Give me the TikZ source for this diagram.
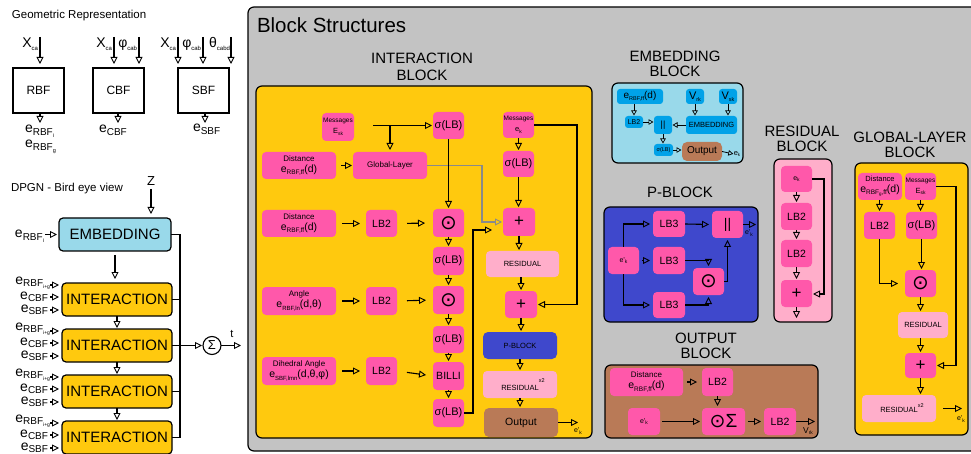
\documentclass[tikz,border=0pt]{standalone}
\usepackage{fontspec}
\setmainfont{Liberation Sans}
\newfontfamily\dvs{DejaVu Sans}
\usetikzlibrary{arrows.meta}
\definecolor{pk}{HTML}{FF58AA}
\definecolor{lpk}{HTML}{FFAECA}
\definecolor{org}{HTML}{FFC90E}
\definecolor{gry}{HTML}{C3C3C3}
\definecolor{brn}{HTML}{B97A57}
\definecolor{blu}{HTML}{3F48CC}
\definecolor{lbl}{HTML}{99D9EA}
\definecolor{mbl}{HTML}{00A2E8}
\definecolor{garr}{HTML}{8A8A8A}
\newcommand\fs[1]{\fontsize{#1}{#1}\selectfont}
\newcommand\lo[2][6]{\raisebox{-0.2em}{\fs{#1}#2}}
\newcommand\BX[7]{\node[#2, minimum width={(#5)-(#3)}, minimum height={(#6)-(#4)}] (#1) at ({((#3)+(#5))/2},{((#4)+(#6))/2}) {#7};}
\newcommand\OD{{\dvs\fs{20}⊙}}
\newcommand\DST[2][8]{{\fs{#1}Distance}\\{\fs{10.5}e\lo[6.5]{#2}(d)}}
\newcommand\MSG[1]{{\fs{6.5}Messages}\\{\fs{7.5}#1}}
\begin{document}
\begin{tikzpicture}[x=1pt,y=-1pt,
  every node/.style={inner sep=0pt,outer sep=0pt,align=center},
  ln/.style={line width=1.1pt},
  ar/.style={ln,-{Triangle[open,length=7pt,width=7pt,line width=0.9pt]},shorten >=1pt},
  sar/.style={line width=0.8pt,-{Triangle[open,length=5pt,width=5.5pt,line width=0.7pt]},shorten >=0.5pt},
  gar/.style={line width=1.1pt,draw=garr,-{Triangle[open,length=7pt,width=7pt,line width=0.9pt]},shorten >=1pt},
  cont/.style={draw,line width=1.2pt,rounded corners=6pt},
  wb/.style={draw,line width=1.2pt,font=\fs{12}},
  lbx/.style={draw,line width=1.2pt,rounded corners=4pt,fill=lbl,font=\fs{15}},
  ibx/.style={draw,line width=1.2pt,rounded corners=4pt,fill=org,font=\fs{15}},
  pkb/.style={fill=pk,rounded corners=4pt,font=\fs{11}},
  lpb/.style={fill=lpk,rounded corners=4pt,font=\fs{7.5}},
  bb/.style={fill=mbl,rounded corners=3pt},
  brb/.style={fill=brn,rounded corners=5pt,font=\fs{10.5}},
  ttl/.style={font=\fontsize{15}{15}\selectfont},
]
\useasboundingbox (0,0) rectangle (971,454);
% ---------------- left: geometric representation
\node[anchor=base west,font=\fs{11.5}] (gtitle) at (12,19) {Geometric Representation};
\BX{rbf}{wb}{13}{68}{64}{113}{RBF}
\BX{cbf}{wb}{93}{68}{144}{113}{CBF}
\BX{sbf}{wb}{178}{68}{229}{113}{SBF}
\coordinate (xr) at (40,37);
\coordinate (xc1) at (114,37); \coordinate (xc2) at (139,37);
\coordinate (xs1) at (178,37); \coordinate (xs2) at (203,37); \coordinate (xs3) at (231,37);
\foreach \c in {xr,xc1,xc2,xs1,xs2,xs3}{\draw[ar,shorten >=4pt] (\c) -- (\c |- rbf.north);}
\node[anchor=base east,font=\fs{14}] at (38,48) {X\lo[6]{ca}};
\node[anchor=base east,font=\fs{14}] at (112,48) {X\lo[6]{ca}};
\node[anchor=base east,font=\fs{14}] at (137,48) {φ\lo[6]{cab}};
\node[anchor=base east,font=\fs{14}] at (176,48) {X\lo[6]{ca}};
\node[anchor=base east,font=\fs{14}] at (201,48) {φ\lo[6]{cab}};
\node[anchor=base east,font=\fs{14}] at (230,48) {θ\lo[6]{cabd}};
\coordinate (ro) at (40,124); \coordinate (co) at (118,124); \coordinate (so) at (205,124);
\draw[ar] (rbf.south -| ro) -- (ro);
\draw[ar] (cbf.south -| co) -- (co);
\draw[ar] (sbf.south -| so) -- (so);
\node[anchor=base west,font=\fs{14}] at (25,133) {e\lo[10]{RBF\lo[5.5]{i}}};
\node[anchor=base west,font=\fs{14}] at (25,148) {e\lo[10]{RBF\lo[5.5]{g}}};
\node[anchor=base west,font=\fs{14}] at (99,133) {e\lo[10]{CBF}};
\node[anchor=base west,font=\fs{14}] at (193,132) {e\lo[10]{SBF}};
% ---------------- left: bird eye view
\node[anchor=base west,font=\fs{11.5}] (dtitle) at (11,192) {DPGN - Bird eye view};
\node[anchor=base,font=\fs{13}] (zl) at (151,186) {Z};
\BX{emb}{lbx}{59}{218}{171}{251}{EMBEDDING}
\draw[ar,shorten <=3pt,shorten >=4pt] (zl.south) -- (zl.south |- emb.north);
\coordinate (ein) at (45,234.5);
\node[anchor=base east,font=\fs{14}] at (44,238) {e\lo[10]{RBF\lo[5.5]{i}}};
\draw[ar,shorten >=2pt] (ein) -- (emb.west);
\BX{i1}{ibx}{62}{283}{172}{316}{INTERACTION}
\BX{i2}{ibx}{62}{329}{172}{362}{INTERACTION}
\BX{i3}{ibx}{62}{375}{172}{408}{INTERACTION}
\BX{i4}{ibx}{62}{421}{172}{454}{INTERACTION}
\draw[ar,shorten <=4pt,shorten >=4pt] (emb.south) -- (emb.south |- i1.north);
\draw[ar] (i1.south) -- (i2.north);
\draw[ar] (i2.south) -- (i3.north);
\draw[ar] (i3.south) -- (i4.north);
\foreach \n/\t in {1/283,2/329,3/375,4/421}{
  \coordinate (i\n-a) at (50,\t+2);
  \coordinate (i\n-b) at (50,\t+14);
  \coordinate (i\n-c) at (50,\t+27);
  \node[anchor=base east,font=\fs{14}] at (50,\t+1) {e\lo[10]{RBF\lo[5]{i+g}}};
  \node[anchor=base east,font=\fs{14}] at (48,\t+16) {e\lo[10]{CBF}};
  \node[anchor=base east,font=\fs{14}] at (48,\t+29) {e\lo[10]{SBF}};
  \draw[ar,shorten >=3pt] (i\n-a) -- (i\n-a -| i\n.west);
  \draw[ar,shorten >=3pt] (i\n-b) -- (i\n-b -| i\n.west);
  \draw[ar,shorten >=3pt] (i\n-c) -- (i\n-c -| i\n.west);
}
\coordinate (busb) at (180,437.5);
\draw[ln] (emb.east) -| (busb) -- (i4.east);
\draw[ln] (i1.east) -- (i1.east -| busb);
\draw[ln] (i3.east) -- (i3.east -| busb);
\node[draw,circle,line width=1.1pt,minimum size=18pt,font=\fs{13}] (sum) at (212,345.5) {Σ};
\draw[ar] (i2.east) -- (sum.west);
\coordinate (tout) at (242,345.5);
\draw[ar] (sum.east) -- (tout);
\node[anchor=base,font=\fs{11}] at (232,337) {t};
% ---------------- block structures panel
\draw[cont,fill=gry] (248,7) rectangle (995,451);
\node[anchor=base west,font=\fs{20.5}] (bst) at (257,33) {Block Structures};
% interaction block
\BX{iblk}{cont,fill=org}{256}{86}{592}{438}{}
\node[ttl,font=\fontsize{15}{17}\selectfont] at (422,67) {INTERACTION\\BLOCK};
\BX{msgE}{pkb}{322}{113}{354}{141}{\MSG{E\lo[5]{sk}}}
\BX{dist1}{pkb}{262}{152}{336}{179}{\DST{RBF,ff}}
\BX{glob}{pkb,font=\fs{8}}{353}{152}{427}{179}{Global-Layer}
\BX{dist2}{pkb}{262}{210}{336}{237}{\DST{RBF,ff}}
\BX{lba}{pkb,font=\fs{10.5}}{366}{210}{397}{237}{LB2}
\BX{ang}{pkb}{262}{287}{336}{315}{{\fs{8}Angle}\\{\fs{10.5}e\lo[6]{RBF,ln}(d,θ)}}
\BX{lbb}{pkb,font=\fs{10.5}}{366}{287}{397}{315}{LB2}
\BX{dih}{pkb}{262}{357}{336}{385}{{\fs{8}Dihedral Angle}\\{\fs{10.5}e\lo[6]{SBF,lmn}(d,θ,φ)}}
\BX{lbc}{pkb,font=\fs{10.5}}{366}{357}{397}{385}{LB2}
\BX{s1}{pkb}{433}{112}{464}{139}{σ(LB)}
\BX{od1}{pkb}{433}{209}{464}{237}{\OD}
\BX{s2}{pkb}{433}{247}{464}{275}{σ(LB)}
\BX{od2}{pkb}{433}{286}{464}{314}{\OD}
\BX{s3}{pkb}{433}{326}{464}{353}{σ(LB)}
\BX{bil}{pkb,font=\fs{10.5}}{433}{362}{464}{390}{BILLI}
\BX{s4}{pkb}{433}{399}{464}{427}{σ(LB)}
\BX{msgk}{pkb}{503}{112}{534}{138}{\MSG{e\lo[5]{k}}}
\BX{s5}{pkb}{503}{151}{534}{177}{σ(LB)}
\BX{pl1}{pkb,font=\fs{17}}{503}{208}{535}{236}{+}
\BX{res1}{lpb}{486}{251}{559}{277}{RESIDUAL}
\BX{pl2}{pkb,font=\fs{17}}{505}{291}{537}{318}{+}
\BX{pbk}{fill=blu,rounded corners=5pt,font=\fs{7.5}}{483}{332}{557}{359}{P-BLOCK}
\BX{res2}{lpb}{483}{371}{557}{398}{RESIDUAL\rlap{\raisebox{8pt}{\fs{5.5}x2}}}
\BX{outp}{brb}{484}{408}{558}{437}{Output}
\coordinate (mt1) at (373,125.5);
\coordinate (mt2) at (390,125.5);
\draw[ar] (mt1) -- (s1.west);
\draw[ar,shorten >=2pt] (mt2) -- (mt2 |- glob.north);
\draw[ar,shorten <=5pt] (dist1.east) -- (glob.west);
\coordinate (gb) at (482,165.5);
\draw[gar] (glob.east) -- (gb) |- (pl1.west);
\draw[ar] (s1.south) -- (od1.north);
\draw[ar,shorten <=6pt,shorten >=6pt] (dist2.east) -- (lba.west);
\draw[ar,shorten <=6pt,shorten >=6pt] (ang.east) -- (lbb.west);
\draw[ar,shorten <=6pt,shorten >=6pt] (dih.east) -- (lbc.west);
\draw[ar,shorten <=10pt,shorten >=8pt] (lba.east) -- (od1.west);
\draw[ar,shorten <=10pt,shorten >=7pt] (lbb.east) -- (od2.west);
\draw[ar,shorten <=10pt,shorten >=7pt] (lbc.east) -- (bil.west);
\draw[ar] (od1.south) -- (s2.north);
\draw[ar] (s2.south) -- (od2.north);
\draw[ar] (od2.south) -- (s3.north);
\draw[ar] (s3.south) -- (bil.north);
\draw[ar] (bil.south) -- (s4.north);
\coordinate (k1) at (473,230);
\draw[ar,shorten >=11pt] (s4.east) -| (k1) -- (k1 -| pl1.west);
\draw[ar] (msgk.south) -- (msgk.south |- s5.north);
\draw[ar] (s5.south) -- (s5.south |- pl1.north);
\draw[ar] (pl1.south) -- (pl1.south |- res1.north);
\draw[ar] (pl2.north |- res1.south) -- (pl2.north);
\draw[ar] (pl2.south) -- (pl2.south |- pbk.north);
\draw[ar] (pbk.south) -- (pbk.south |- res2.north);
\draw[ar] (res2.south) -- (res2.south |- outp.north);
\coordinate (k2) at (577,304.5);
\draw[ar] (msgk.east) -| (k2) -- (pl2.east);
\coordinate (eo) at (579,422.5);
\draw[ar] (outp.east) -- (eo);
\node[font=\fs{7}] at (578,431) {e'\lo[5]{k}};
% embedding block
\node[ttl] at (675,64) {EMBEDDING\\BLOCK};
\BX{embblk}{cont,fill=lbl}{612}{83}{743}{163}{}
\BX{ebe}{bb,font=\fs{10}}{617}{89}{663}{104}{e\lo[5.5]{RBF,ff}(d)}
\BX{ebvr}{bb,font=\fs{11}}{686}{89}{704}{104}{V\lo[5.5]{rk}}
\BX{ebvs}{bb,font=\fs{11}}{719}{89}{737}{104}{V\lo[5.5]{sk}}
\BX{eblb}{bb,font=\fs{7}}{625}{116}{643}{128}{LB2}
\BX{ebc}{bb,font=\fs{9}}{654}{116}{672}{134}{||}
\BX{ebem}{bb,font=\fs{7.5}}{686}{116}{737}{134}{EMBEDDING}
\BX{ebs}{bb,font=\fs{5.5}}{654}{144}{673}{156}{σ(LB)}
\BX{ebo}{brb,font=\fs{10}}{682}{142}{722}{161}{Output}
\node[font=\fs{7.5}] (ebk) at (737,154) {e\lo[4.5]{k}};
\draw[sar] (ebe.south -| eblb.north) -- (eblb.north);
\draw[sar] (ebvr.south) -- (ebvr.south |- ebem.north);
\draw[sar] (ebvs.south) -- (ebvs.south |- ebem.north);
\draw[sar] (eblb.east) -- (eblb.east -| ebc.west);
\draw[sar] (ebem.west) -- (ebc.east);
\draw[sar] (ebc.south) -- (ebc.south |- ebs.north);
\draw[sar] (ebs.east) -- (ebs.east -| ebo.west);
\draw[sar] (ebo.east) -- (ebk.west);
% p-block
\node[ttl] at (680,192) {P-BLOCK};
\BX{pblk}{cont,fill=blu}{604}{207}{758}{322}{}
\BX{pe}{pkb}{608}{247}{639}{274}{\fs{7}e'\lo[5]{k}}
\BX{pla}{pkb,font=\fs{10.5}}{653}{211}{685}{237}{LB3}
\BX{plb}{pkb,font=\fs{10.5}}{653}{247}{685}{274}{LB3}
\BX{plc}{pkb,font=\fs{10.5}}{653}{292}{685}{318}{LB3}
\BX{pcat}{pkb,font=\fs{14}}{712}{211}{743}{238}{||}
\BX{pod}{pkb}{693}{268}{724}{295}{\OD}
\draw[ar,shorten <=3pt,shorten >=3pt] (pe.east) -- (plb.west);
\draw[ar,shorten >=3pt] (pe.north) |- (pla.west);
\draw[ar,shorten >=3pt] (pe.south) |- (plc.west);
\draw[ar,shorten >=3pt] (pla.east) -- (pcat.west);
\draw[ar,shorten >=2pt] (plb.east) -| (pod.north);
\draw[ar,shorten >=2pt] (plc.east) -| (pod.south);
\draw[ar,shorten >=2pt] (pod.east) -| (pcat.south);
\coordinate (pout) at (757,224.5);
\draw[ar] (pcat.east) -- (pout);
\node[font=\fs{7}] at (749,233) {e'\lo[5]{k}};
% output block
\node[ttl] at (706,346) {OUTPUT\\BLOCK};
\BX{oblk}{cont,fill=brn}{605}{365}{818}{438}{}
\BX{od}{pkb}{610}{368}{683}{396}{\DST{RBF,ff}}
\BX{ol1}{pkb,font=\fs{10.5}}{702}{368}{733}{396}{LB2}
\BX{oe}{pkb}{628}{408}{660}{435}{\fs{7}e'\lo[5]{k}}
\BX{osum}{pkb,font=\fs{19}}{702}{408}{745}{435}{{\dvs\fs{19}⊙}Σ}
\BX{ol2}{pkb,font=\fs{10.5}}{764}{408}{796}{435}{LB2}
\draw[ar,shorten <=4pt,shorten >=5pt] (od.east) -- (ol1.west);
\draw[ar,shorten >=2pt] (ol1.south) -- (ol1.south |- osum.north);
\draw[ar,shorten <=2pt,shorten >=2pt] (oe.east) -- (osum.west);
\draw[ar,shorten <=3pt,shorten >=3pt] (osum.east) -- (ol2.west);
\coordinate (vout) at (816,421.5);
\draw[ar] (ol2.east) -- (vout);
\node[font=\fs{8.5}] at (808,431) {V\lo[5]{rk}};
% residual block
\node[ttl] at (802,139) {RESIDUAL\\BLOCK};
\BX{rblk}{cont,fill=lpk}{774}{159}{832}{322}{}
\BX{re}{pkb}{781}{166}{812}{192}{\fs{7}e\lo[5]{k}}
\BX{rl1}{pkb,font=\fs{10.5}}{781}{203}{812}{230}{LB2}
\BX{rl2}{pkb,font=\fs{10.5}}{781}{240}{812}{267}{LB2}
\BX{rp}{pkb,font=\fs{17}}{781}{280}{812}{307}{+}
\draw[ar] (re.south) -- (rl1.north);
\draw[ar] (rl1.south) -- (rl2.north);
\draw[ar] (rl2.south) -- (rp.north);
\coordinate (rout) at (796.5,319);
\draw[ar] (rp.south) -- (rout);
\coordinate (rk) at (824,294);
\draw[ar] (re.east) -| (rk) -- (rk -| rp.east);
% global-layer block
\node[ttl] at (910,145) {GLOBAL-LAYER\\BLOCK};
\BX{gblk}{cont,fill=org}{855}{163}{968}{435}{}
\BX{gd}{pkb}{858}{173}{902}{200}{\DST[7.5]{RBF\lo[4.5]{g},ff}}
\BX{gm}{pkb}{905}{173}{936}{200}{\MSG{E\lo[5]{sk}}}
\BX{gl}{pkb,font=\fs{10.5}}{864}{212}{895}{239}{LB2}
\BX{gs}{pkb}{906}{212}{937}{239}{σ(LB)}
\BX{god}{pkb}{905}{270}{936}{297}{\OD}
\BX{gres}{lpb}{898}{312}{948}{338}{RESIDUAL}
\BX{gp}{pkb,font=\fs{17}}{905}{353}{936}{378}{+}
\BX{gres2}{lpb}{862}{395}{936}{422}{RESIDUAL\rlap{\raisebox{5pt}{\fs{5.5}x2}}}
\draw[ar] (gl.north |- gd.south) -- (gl.north);
\draw[ar] (gm.south) -- (gm.south |- gs.north);
\draw[ar,shorten >=7pt] (gl.south) |- (god.west);
\draw[ar] (gs.south) -- (gs.south |- god.north);
\draw[ar] (god.south) -- (god.south |- gres.north);
\draw[ar] (gp.north |- gres.south) -- (gp.north);
\draw[ar] (gp.south) -- (gp.south |- gres2.north);
\coordinate (gk) at (956,365.5);
\draw[ar] (gm.east) -| (gk) -- (gp.east);
\coordinate (gen) at (963,408.5);
\draw[ar,shorten <=7pt] (gres2.east) -- (gen);
\node[font=\fs{7}] at (961,419) {e'\lo[5]{k}};
\end{tikzpicture}
\end{document}
